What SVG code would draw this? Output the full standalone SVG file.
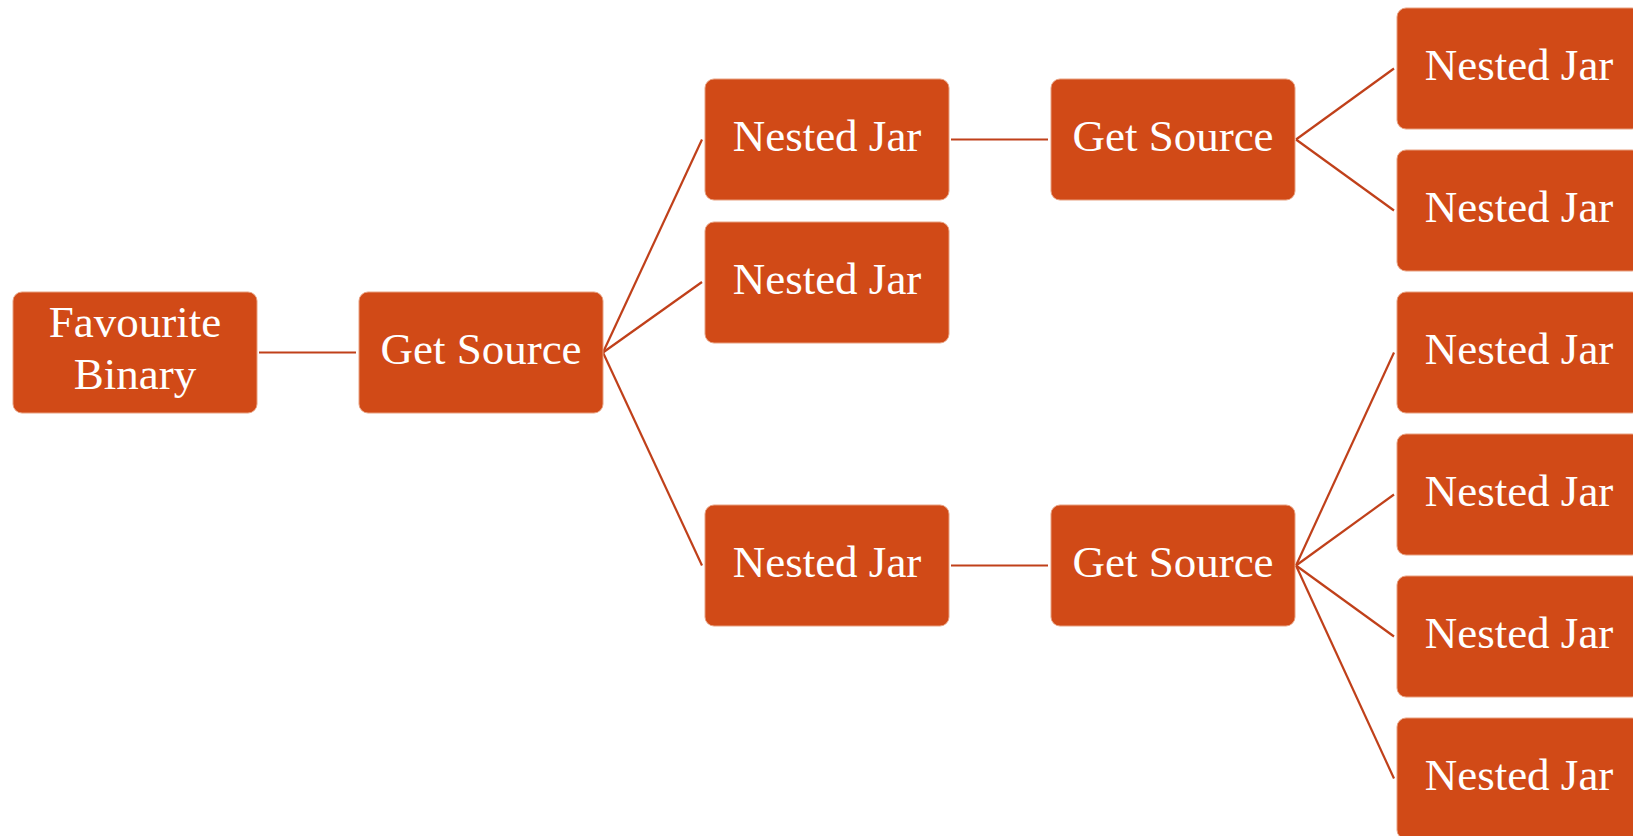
<svg xmlns="http://www.w3.org/2000/svg" width="1633" height="836" viewBox="0 0 1633 836">
<style>
.box{fill:#D14A17;stroke:#E8A080;stroke-width:1}
.lbl{font-family:"Liberation Serif","Times New Roman",serif;font-size:45px;fill:#FFFFFF;text-anchor:middle}
.con line{stroke:#C0401A;stroke-width:2.2;fill:none}
</style>
<rect width="1633" height="836" fill="#FFFFFF"/>
<g class="con" id="connectors">
<line x1="259" y1="352.5" x2="356" y2="352.5"/>
<line x1="603" y1="352.5" x2="702" y2="139.5"/>
<line x1="603" y1="352.5" x2="702" y2="282"/>
<line x1="603" y1="352.5" x2="702" y2="565.5"/>
<line x1="951" y1="139.5" x2="1048" y2="139.5"/>
<line x1="951" y1="565.5" x2="1048" y2="565.5"/>
<line x1="1296" y1="139.5" x2="1394" y2="68.5"/>
<line x1="1296" y1="139.5" x2="1394" y2="210.5"/>
<line x1="1296" y1="565.5" x2="1394" y2="352.5"/>
<line x1="1296" y1="565.5" x2="1394" y2="494.5"/>
<line x1="1296" y1="565.5" x2="1394" y2="636.5"/>
<line x1="1296" y1="565.5" x2="1394" y2="778.5"/>
</g>
<g id="favourite-binary"><rect class="box" x="13" y="292" width="244" height="121" rx="9"/><text class="lbl" x="135" y="337">Favourite</text><text class="lbl" x="135" y="389">Binary</text></g>
<g id="get-source-1"><rect class="box" x="359" y="292" width="244" height="121" rx="9"/><text class="lbl" x="481" y="364">Get Source</text></g>
<g id="nested-jar-1"><rect class="box" x="705" y="79" width="244" height="121" rx="9"/><text class="lbl" x="827" y="151">Nested Jar</text></g>
<g id="nested-jar-2"><rect class="box" x="705" y="222" width="244" height="121" rx="9"/><text class="lbl" x="827" y="294">Nested Jar</text></g>
<g id="nested-jar-3"><rect class="box" x="705" y="505" width="244" height="121" rx="9"/><text class="lbl" x="827" y="577">Nested Jar</text></g>
<g id="get-source-2"><rect class="box" x="1051" y="79" width="244" height="121" rx="9"/><text class="lbl" x="1173" y="151">Get Source</text></g>
<g id="get-source-3"><rect class="box" x="1051" y="505" width="244" height="121" rx="9"/><text class="lbl" x="1173" y="577">Get Source</text></g>
<g id="nested-jar-4"><rect class="box" x="1397" y="8" width="244" height="121" rx="9"/><text class="lbl" x="1519" y="80">Nested Jar</text></g>
<g id="nested-jar-5"><rect class="box" x="1397" y="150" width="244" height="121" rx="9"/><text class="lbl" x="1519" y="222">Nested Jar</text></g>
<g id="nested-jar-6"><rect class="box" x="1397" y="292" width="244" height="121" rx="9"/><text class="lbl" x="1519" y="364">Nested Jar</text></g>
<g id="nested-jar-7"><rect class="box" x="1397" y="434" width="244" height="121" rx="9"/><text class="lbl" x="1519" y="506">Nested Jar</text></g>
<g id="nested-jar-8"><rect class="box" x="1397" y="576" width="244" height="121" rx="9"/><text class="lbl" x="1519" y="648">Nested Jar</text></g>
<g id="nested-jar-9"><rect class="box" x="1397" y="718" width="244" height="121" rx="9"/><text class="lbl" x="1519" y="790">Nested Jar</text></g>
</svg>
